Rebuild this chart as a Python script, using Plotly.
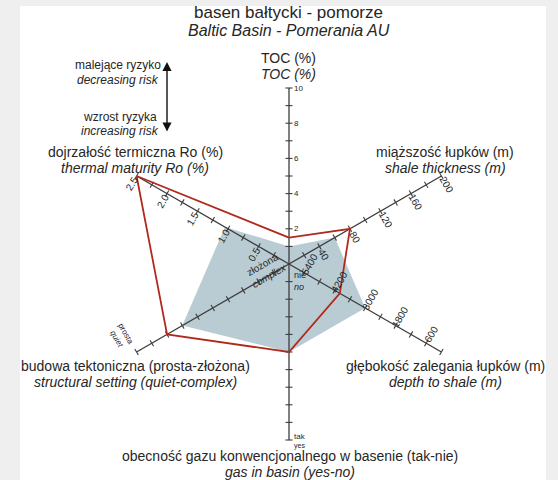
import math
import plotly.graph_objects as go

# ---------------- data ----------------
axis_titles_pl = [
    "TOC (%)",
    "miąższość łupków (m)",
    "głębokość zalegania łupków (m)",
    "obecność gazu konwencjonalnego w basenie (tak-nie)",
    "budowa tektoniczna (prosta-złożona)",
    "dojrzałość termiczna Ro (%)",
]
axis_titles_en = [
    "TOC (%)",
    "shale thickness (m)",
    "depth to shale (m)",
    "gas in basin (yes-no)",
    "structural setting (quiet-complex)",
    "thermal maturity Ro (%)",
]
# axis directions, degrees clockwise from the top
axis_angles = [0, 60, 120, 180, 240, 300]

# Pomerania AU assessment (red outline)
pomerania_values = [1.5, 80, 4000, 0.5, 0.8, 2.5]
# basin reference envelope (shaded)
envelope_values = [1.0, 60, 3000, 0.5, 0.7, 1.05]

toc_ticks = [1, 2, 3, 4, 5, 6, 7, 8, 9, 10]
toc_labels = [2, 4, 6, 8, 10]
thickness_ticks = [20, 40, 60, 80, 100, 120, 140, 160, 180, 200]
thickness_labels = [40, 80, 120, 160, 200]
depth_ticks = [5400, 4800, 4200, 3600, 3000, 2400, 1800, 1200, 600, 0]
depth_labels = [5400, 4200, 3000, 1800, 600]
gas_ticks = [0.1, 0.2, 0.3, 0.4, 0.5, 0.6, 0.7, 0.8, 0.9, 1.0]
structure_ticks = [0.1, 0.2, 0.3, 0.4, 0.5, 0.6, 0.7, 0.8, 0.9, 1.0]
ro_ticks = [0.25, 0.5, 0.75, 1.0, 1.25, 1.5, 1.75, 2.0, 2.25, 2.5]
ro_labels = [0.5, 1.0, 1.5, 2.0, 2.5]

# ---------------- scales (value -> fraction of axis length) ----------------
scales = [
    lambda v: v / 10.0,               # TOC 0..10 %
    lambda v: v / 200.0,              # thickness 0..200 m
    lambda v: (6000.0 - v) / 6000.0,  # depth, shallower outward
    lambda v: v,                      # gas: 0 = no, 1 = yes
    lambda v: v,                      # structure: 0 = complex, 1 = quiet
    lambda v: v / 2.5,                # Ro 0..2.5 %
]
all_ticks = [toc_ticks, thickness_ticks, depth_ticks, gas_ticks, structure_ticks, ro_ticks]

W, H = 558, 480
FONT = "Liberation Sans, Arial, sans-serif"
TXT = "#262626"
AX = "#3c3c3c"
RED = "#b02a1c"
FILL = "rgb(185,204,211)"

# page geometry: chart centre and axis length in pixels
CX, CY, RP = 289, 264, 176
dom_x = [(CX - RP) / W, (CX + RP) / W]
dom_y = [(H - CY - RP) / H, (H - CY + RP) / H]
# label layer spans a little beyond the axis ends so end labels stay visible
LX = 1.2
lab_x = [(CX - LX * RP) / W, (CX + LX * RP) / W]
lab_y = [(H - CY - LX * RP) / H, (H - CY + LX * RP) / H]


def closed(seq):
    return list(seq) + [seq[0]]


fig = go.Figure()

env_r = [scales[i](v) for i, v in enumerate(envelope_values)]
fig.add_trace(go.Scatterpolar(
    r=closed(env_r), theta=closed(axis_angles), mode="lines",
    fill="toself", fillcolor=FILL, line=dict(width=0, color=FILL),
    hoverinfo="skip", showlegend=False))

# axis lines
for ang in axis_angles:
    fig.add_trace(go.Scatterpolar(
        r=[0, 1], theta=[ang, ang], mode="lines",
        line=dict(color=AX, width=1.3), hoverinfo="skip", showlegend=False))

# tick marks, perpendicular to each axis
for ang, sc, ticks in zip(axis_angles, scales, all_ticks):
    fig.add_trace(go.Scatterpolar(
        r=[sc(t) for t in ticks], theta=[ang] * len(ticks), mode="markers",
        marker=dict(symbol="line-ew", size=5, angle=ang,
                    line=dict(color=AX, width=1.1)),
        hoverinfo="skip", showlegend=False))

pom_r = [scales[i](v) for i, v in enumerate(pomerania_values)]
fig.add_trace(go.Scatterpolar(
    r=closed(pom_r), theta=closed(axis_angles), mode="lines",
    line=dict(color=RED, width=1.8), hoverinfo="skip", showlegend=False))

# empty cartesian layer used to place rotated axis labels
fig.add_trace(go.Scatter(x=[None], y=[None], showlegend=False, hoverinfo="skip"))

ann = []


def at(ang, r, off_px):
    t = math.radians(ang)
    o = off_px / RP
    return r * math.sin(t) + o * math.cos(t), r * math.cos(t) - o * math.sin(t)


def label(ang, r, off_px, text, size=10, rot=0, xanchor="center"):
    x, y = at(ang, r, off_px)
    ann.append(dict(x=x, y=y, xref="x", yref="y", text=text, showarrow=False,
                    textangle=rot, xanchor=xanchor, yanchor="middle",
                    font=dict(family=FONT, size=size, color=TXT)))


for v in toc_labels:
    label(0, scales[0](v), 3, str(v), size=8, xanchor="left")
for v in thickness_labels:
    label(60, scales[1](v), 10, str(v), rot=60)
for v in depth_labels:
    label(120, scales[2](v), -10, str(v), rot=-60)
for v in ro_labels:
    label(300, scales[5](v), -9, f"{v:.1f}", rot=-60)
label(180, 0.064, -3, "nie", size=9, xanchor="left")
label(180, 0.13, -3, "<i>no</i>", size=9, xanchor="left")
label(180, 0.98, -3, "tak", size=8, xanchor="left")
label(180, 1.035, -3, "yes", size=7, xanchor="left")
label(240, 1.03, 21, "prosta<br><i>quiet</i>", size=8, rot=60)
label(240, 0.13, 6, "złożona<br><i>complex</i>", size=10, rot=-30)


def ptext(px, py, text, size=14, italic=False, xanchor="center"):
    ann.append(dict(x=px / W, y=1 - py / H, xref="paper", yref="paper",
                    text=f"<i>{text}</i>" if italic else text, showarrow=False,
                    xanchor=xanchor, yanchor="middle",
                    font=dict(family=FONT, size=size, color=TXT)))


ptext(289, 12, "basen bałtycki - pomorze", size=17)
ptext(289, 30, "Baltic Basin - Pomerania AU", size=16, italic=True)

title_pos = [(289, 58), (445, 152), (445, 366), (290, 456), (135, 366), (135, 152)]
for (px, py), pl, en in zip(title_pos, axis_titles_pl, axis_titles_en):
    ptext(px, py, pl, size=14)
    ptext(px, py + 16, en, size=14, italic=True)

# risk direction key
ptext(163, 65, "malejące ryzyko", size=12, xanchor="right")
ptext(161, 80, "decreasing risk", size=12, italic=True, xanchor="right")
ptext(159, 117, "wzrost ryzyka", size=12, xanchor="right")
ptext(161, 131, "increasing risk", size=12, italic=True, xanchor="right")
ann.append(dict(x=167 / W, y=1 - 62 / H, xref="paper", yref="paper", text="",
                showarrow=True, ax=0, ay=71, axref="pixel", ayref="pixel",
                arrowside="end+start", arrowhead=2, arrowsize=1.3,
                arrowwidth=1.4, arrowcolor="#111", standoff=0, startstandoff=0))

fig.update_layout(
    width=W, height=H, margin=dict(l=0, r=0, t=0, b=0),
    paper_bgcolor="#efefef", plot_bgcolor="rgba(0,0,0,0)",
    showlegend=False,
    polar=dict(domain=dict(x=dom_x, y=dom_y), bgcolor="rgba(0,0,0,0)",
               radialaxis=dict(visible=False, range=[0, 1]),
               angularaxis=dict(visible=False, rotation=90, direction="clockwise")),
    xaxis=dict(domain=lab_x, range=[-LX, LX], visible=False, fixedrange=True),
    yaxis=dict(domain=lab_y, range=[-LX, LX], visible=False, fixedrange=True),
    shapes=[dict(type="rect", xref="paper", yref="paper", x0=20 / W, x1=546 / W,
                 y0=0, y1=1 - 6 / H, fillcolor="white", line=dict(width=0),
                 layer="below")],
    annotations=ann,
)

fig.write_html("out.html")
